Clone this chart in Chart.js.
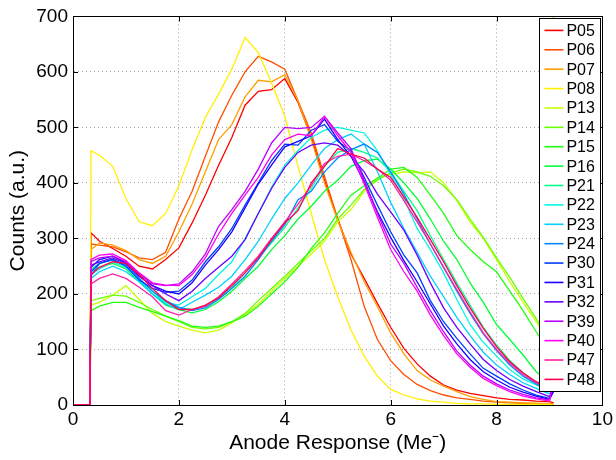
<!DOCTYPE html>
<html><head><meta charset="utf-8">
<script src="https://cdn.jsdelivr.net/npm/chart.js@4.4.1/dist/chart.umd.min.js"></script>
<style>html,body{margin:0;padding:0;background:#fff;}</style>
</head><body>
<canvas id="c" width="616" height="460" style="width:616px;height:460px;display:block"></canvas>
<script>
// ---- data ----
const xs = [0, 0.32, 0.34, 0.5, 0.75, 1, 1.25, 1.5, 1.75, 2, 2.25, 2.5, 2.75, 3, 3.25, 3.5, 3.75, 4, 4.25, 4.5, 4.75, 5, 5.25, 5.5, 5.75, 6, 6.25, 6.5, 6.75, 7, 7.25, 7.5, 7.75, 8, 8.25, 8.5, 8.75, 9, 9.08];
const seriesNames = ['P05','P06','P07','P08','P13','P14','P15','P16','P21','P22','P23','P24','P30','P31','P32','P39','P40','P47','P48'];
const seriesColors = ['#ff0000','#ff5000','#ffa000','#fff000','#c8ff00','#6bff00','#20ff10','#00ff38','#00ff88','#00f8e0','#00d0ff','#0088ff','#0040ff','#1a00ff','#6b00ff','#bb00ff','#ff00f0','#ff20a8','#ff0050'];
const xTicks = [0, 2, 4, 6, 8, 10];
const yTicks = [0, 100, 200, 300, 400, 500, 600, 700];

const P05 = [0,0,310,295,282,268,250,245,262,283,328,378,432,482,540,565,568,588,545,482,405,335,272,228,183,140,102,74,52,36,27,21,17,13,10,9,7,6,4];
const P06 = [0,0,290,288,285,276,265,262,275,335,385,448,510,558,600,628,618,605,548,490,412,335,262,178,118,80,55,37,26,18,13,10,7,5,4,3,3,2,1];
const P07 = [0,0,280,292,288,278,262,255,268,312,362,420,478,505,555,585,582,595,548,478,400,332,275,222,177,130,92,62,45,34,24,15,10,6,5,4,3,3,1];
const P08 = [0,0,458,450,430,372,330,323,345,395,460,518,560,605,662,635,580,520,430,345,262,195,135,88,52,28,18,11,7,5,3,2,2,1,1,1,1,1,0];
const P13 = [0,0,180,185,198,215,190,165,150,142,135,130,135,148,162,182,205,228,250,272,295,330,352,385,410,415,420,418,420,400,368,330,300,262,222,185,150,110,120];
const P14 = [0,0,188,192,198,196,185,172,160,150,140,137,140,150,165,188,210,232,255,278,300,335,360,388,405,418,425,420,412,395,370,335,302,265,230,192,155,115,760];
const P15 = [0,0,170,178,185,185,176,168,160,152,142,140,142,150,160,178,200,222,248,282,310,345,378,395,408,425,428,410,378,345,305,280,258,240,205,170,132,95,105];
const P16 = [0,0,240,248,255,245,222,200,180,172,166,172,186,205,228,250,280,305,335,358,385,405,430,440,443,425,400,372,335,295,262,220,185,145,118,90,60,40,55];
const P21 = [0,0,245,255,262,252,228,205,185,175,172,178,192,212,238,265,292,320,355,390,430,455,462,455,445,420,385,350,305,262,220,180,140,108,80,58,40,28,45];
const P22 = [0,0,235,245,258,248,225,200,185,180,195,210,235,258,300,345,392,432,458,482,495,500,495,490,458,415,372,318,280,238,190,145,113,88,64,47,36,24,35];
const P23 = [0,0,228,240,250,240,222,200,182,172,185,198,212,232,262,295,335,372,400,432,462,478,488,470,420,365,318,275,232,195,158,125,95,72,55,40,30,20,32];
const P24 = [0,0,232,255,262,252,228,205,188,176,170,175,190,210,232,262,295,325,370,385,420,445,460,470,455,420,380,335,290,248,205,165,128,98,72,52,38,25,40];
const P30 = [0,0,240,255,262,250,225,210,203,205,225,258,285,318,360,400,440,470,468,495,505,475,458,410,360,312,270,238,188,150,120,92,66,52,38,27,18,12,28];
const P31 = [0,0,248,262,268,256,232,215,205,200,220,252,280,312,355,398,432,465,475,485,515,478,448,402,348,302,260,222,182,142,110,82,60,45,32,23,16,10,25];
const P32 = [0,0,252,258,265,255,232,215,200,188,205,228,248,268,298,345,390,428,455,468,472,468,448,420,380,348,315,270,220,175,140,110,82,62,46,34,24,15,30];
const P39 = [0,0,258,265,268,258,236,218,215,218,240,272,322,352,385,425,472,500,498,500,520,490,462,405,345,290,255,212,170,132,97,72,52,38,27,19,13,9,45];
const P40 = [0,0,262,270,272,260,238,220,216,215,235,265,308,345,378,410,450,478,488,485,520,485,455,398,338,280,240,205,162,125,92,68,48,35,24,16,11,7,55];
const P47 = [0,0,218,228,236,228,212,195,170,162,172,178,195,218,242,268,300,330,362,395,435,448,452,440,425,405,368,330,290,248,208,168,130,100,75,55,40,28,50];
const P48 = [0,0,235,248,258,255,235,210,188,172,172,180,193,215,238,265,298,328,350,400,430,462,452,445,425,410,375,338,298,258,215,175,138,105,78,58,42,30,48];
const seriesValues = [P05,P06,P07,P08,P13,P14,P15,P16,P21,P22,P23,P24,P30,P31,P32,P39,P40,P47,P48];

// ---- chart ----
const FONT = "'Liberation Sans', Arial, Helvetica, sans-serif";
const datasets = seriesValues.map((vals, i) => ({
  label: seriesNames[i],
  data: vals.map((v, k) => ({x: xs[k], y: v})),
  borderColor: seriesColors[i],
  backgroundColor: seriesColors[i],
  borderWidth: 1.3,
  pointRadius: 0,
  tension: 0,
  fill: false,
  order: -i
}));

const framePlugin = {
  id: 'frame',
  afterDatasetsDraw(chart) {
    const {ctx, chartArea: a, scales: {x, y}} = chart;
    ctx.save();
    ctx.strokeStyle = '#000';
    ctx.lineWidth = 1;
    ctx.beginPath();
    const L = 5;
    xTicks.forEach(v => {
      const p = Math.round(x.getPixelForValue(v)) + 0.5;
      ctx.moveTo(p, a.bottom); ctx.lineTo(p, a.bottom - L);
      ctx.moveTo(p, a.top); ctx.lineTo(p, a.top + L);
    });
    yTicks.forEach(v => {
      const p = Math.round(y.getPixelForValue(v)) + 0.5;
      ctx.moveTo(a.left, p); ctx.lineTo(a.left + L, p);
      ctx.moveTo(a.right, p); ctx.lineTo(a.right - L, p);
    });
    ctx.stroke();
    ctx.strokeRect(Math.round(a.left) + 0.5, Math.round(a.top) + 0.5, Math.round(a.right - a.left), Math.round(a.bottom - a.top));
    ctx.restore();
  }
};

const legendPlugin = {
  id: 'insideLegend',
  afterDraw(chart) {
    const {ctx, chartArea: a} = chart;
    const ds = chart.data.datasets;
    const bx = a.right - 63, by = a.top + 2, bw = 61, bh = 373;
    ctx.save();
    ctx.fillStyle = '#fff';
    ctx.fillRect(bx, by, bw, bh);
    ctx.strokeStyle = '#000';
    ctx.lineWidth = 1;
    ctx.strokeRect(Math.round(bx) + 0.5, Math.round(by) + 0.5, bw, bh);
    ctx.font = '16px ' + FONT;
    ctx.textBaseline = 'middle';
    ctx.textAlign = 'left';
    const step = (bh - 24) / (ds.length - 1);
    ds.forEach((d, i) => {
      const yy = by + 12 + i * step;
      ctx.strokeStyle = d.borderColor;
      ctx.lineWidth = 1.6;
      ctx.beginPath();
      ctx.moveTo(bx + 5, yy); ctx.lineTo(bx + 24, yy);
      ctx.stroke();
      ctx.fillStyle = '#000';
      ctx.fillText(d.label, bx + 27, yy + 1);
    });
    ctx.restore();
  }
};

new Chart(document.getElementById('c'), {
  type: 'line',
  data: {datasets},
  options: {
    responsive: false,
    animation: false,
    devicePixelRatio: 1,
    layout: {padding: {left: 0, right: 10, top: 13, bottom: 0}},
    plugins: {legend: {display: false}, tooltip: {enabled: false}},
    scales: {
      x: {
        type: 'linear', min: 0, max: 10,
        afterBuildTicks: s => { s.ticks = xTicks.map(v => ({value: v})); },
        afterFit: s => { s.height = 55; },
        ticks: {font: {family: FONT, size: 19}, color: '#000', padding: 3, maxRotation: 0, autoSkip: false},
        grid: {color: '#a0a0a0', lineWidth: 1, drawTicks: false},
        border: {display: true, color: '#000', width: 1, dash: [1, 3]},
        title: {display: true, text: 'Anode Response (Me\u207B)', font: {family: FONT, size: 21}, color: '#000', padding: {top: 0, bottom: 4}}
      },
      y: {
        min: 0, max: 700,
        afterBuildTicks: s => { s.ticks = yTicks.map(v => ({value: v})); },
        afterFit: s => { s.width = 73; },
        ticks: {font: {family: FONT, size: 19}, color: '#000', padding: 5, autoSkip: false},
        grid: {color: '#a0a0a0', lineWidth: 1, drawTicks: false},
        border: {display: true, color: '#000', width: 1, dash: [1, 3]},
        title: {display: true, text: 'Counts (a.u.)', font: {family: FONT, size: 21}, color: '#000', padding: {top: 6, bottom: 0}}
      }
    }
  },
  plugins: [framePlugin, legendPlugin]
});
</script>
</body></html>
